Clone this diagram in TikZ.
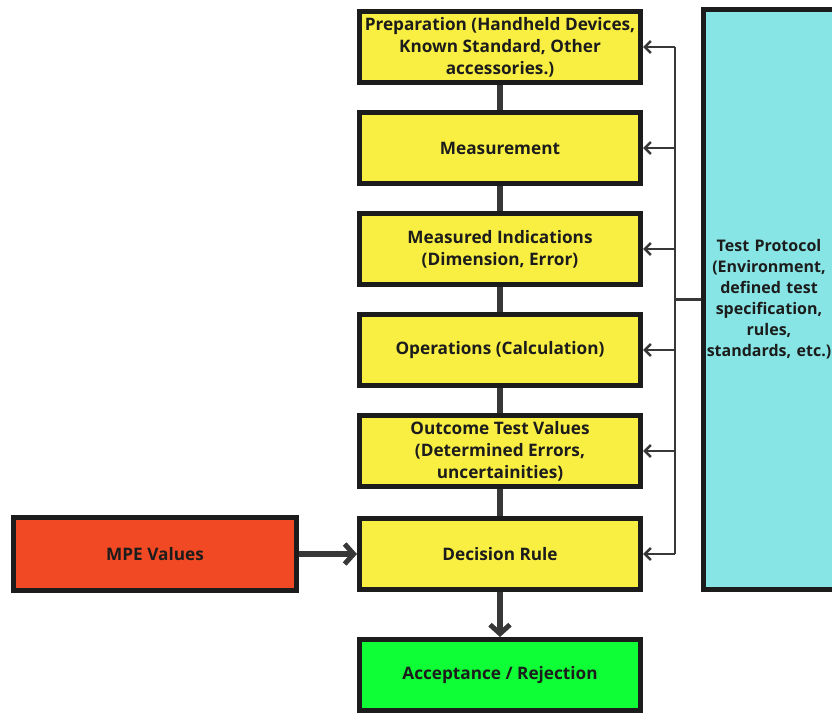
\documentclass[tikz,border=0pt]{standalone}
\usepackage{fontspec}
\setmainfont{Open Sans}
\usetikzlibrary{positioning,arrows.meta}

\definecolor{boxyellow}{HTML}{F9EF42}
\definecolor{boxred}{HTML}{F04923}
\definecolor{boxgreen}{HTML}{0FFF36}
\definecolor{boxcyan}{HTML}{87E6E5}
\definecolor{edge}{HTML}{1C1C1C}
\definecolor{wire}{HTML}{383838}

\begin{document}
\begin{tikzpicture}[node distance=25pt,
  stage/.style={draw=edge,line width=5pt,fill=boxyellow,minimum width=281pt,minimum height=71pt,
    align=center,font=\bfseries\fontsize{17.2}{22}\selectfont,text=edge},
  link/.style={draw=wire,line width=6pt},
  bigarrow/.style={link,-{Straight Barb[length=9pt,width=20pt,line width=5pt]}},
  feed/.style={draw=wire,line width=2.5pt,-{Straight Barb[length=6pt,width=12pt,line width=2.5pt]}},
  bus/.style={draw=wire,line width=2.5pt}]
\useasboundingbox (0,0) rectangle (832pt,-715pt);
\clip (0,0) rectangle (832pt,-715pt);
\node[stage] (prep) at (500pt,-47pt) {Preparation (Handheld Devices,\\Known Standard, Other\\accessories.)};
\node[stage,below=of prep] (meas) {Measurement};
\node[stage,below=of meas] (ind) {Measured Indications\\(Dimension, Error)};
\node[stage,below=of ind] (ops) {Operations (Calculation)};
\node[stage,below=of ops] (out) {Outcome Test Values\\(Determined Errors,\\uncertainities)};
\node[stage,below=27pt of out] (dec) {Decision Rule};
\node[stage,fill=boxgreen,below=45pt of dec] (acc) {Acceptance / Rejection};
\node[stage,fill=boxred,minimum width=283pt,minimum height=73pt,left=58pt of dec] (mpe) {MPE Values};
\node[stage,fill=boxcyan,minimum width=131pt,minimum height=580pt,text width=132pt,inner sep=0pt,
  font=\bfseries\fontsize{16}{21}\selectfont] (tp) at (769pt,-299.5pt)
  {Test Protocol\\(Environment,\\defined test\\specification,\\rules,\\standards, etc.)};
\draw[link] (prep) -- (meas);
\draw[link] (meas) -- (ind);
\draw[link] (ind) -- (ops);
\draw[link] (ops) -- (out);
\draw[link] (out) -- (dec);
\draw[bigarrow] (dec) -- (acc);
\draw[bigarrow] (mpe) -- (dec);
\coordinate (fork) at ([xshift=32pt]prep.east);
\draw[bus] (fork |- prep.east) -- (fork |- dec.east);
\draw[bus] (fork |- tp.west) -- (tp.west);
\foreach \n in {prep,meas,ind,ops,out,dec}
  \draw[feed] (fork |- \n.east) -- (\n.east);
\end{tikzpicture}
\end{document}
